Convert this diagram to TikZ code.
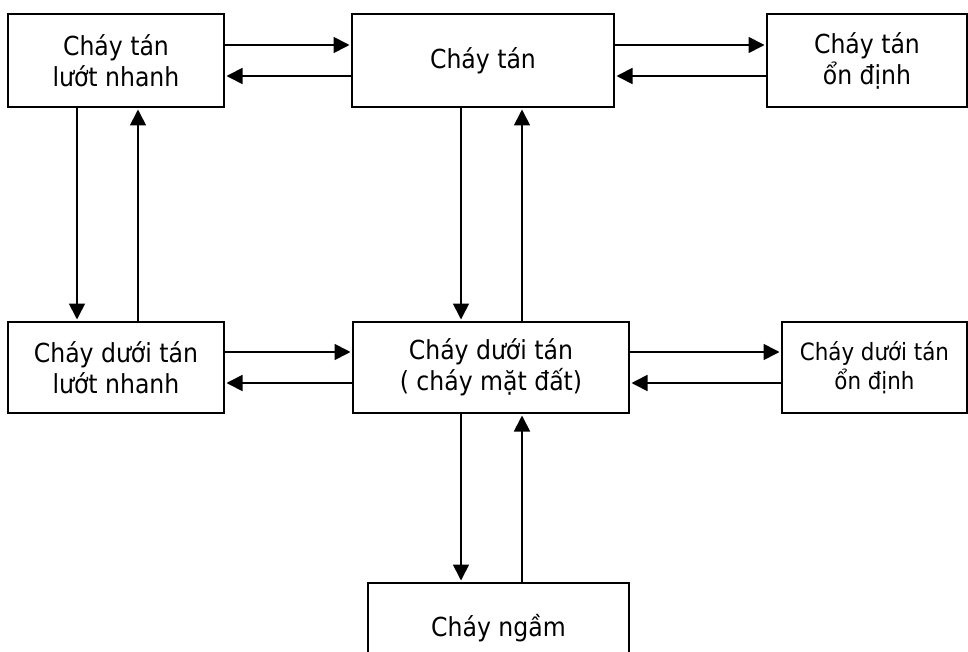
\documentclass[tikz,border=0pt]{standalone}
\usepackage{fontspec}
\setmainfont{DejaVu Sans Condensed}
\usetikzlibrary{arrows.meta}

\begin{document}
\begin{tikzpicture}[x=1pt,y=-1pt,
  box/.style={draw, line width=2pt, inner sep=0pt, outer sep=0pt,
    align=center, font=\fontsize{26.2}{31}\selectfont},
  smallbox/.style={box, font=\fontsize{23.8}{29}\selectfont},
  link/.style={line width=1.7pt, shorten >=2.5pt,
    -{Triangle[length=16pt,width=16pt]}}]

\fill[white] (0,0) rectangle (968,652);
\useasboundingbox (0,0) rectangle (968,652);

% fire states
\node[box, minimum width=216pt, minimum height=93pt] (b1) at (116,60.5) {Cháy tán\\lướt nhanh};
\node[box, minimum width=262pt, minimum height=93pt] (b2) at (483,60.5) {Cháy tán};
\node[box, minimum width=200pt, minimum height=93pt] (b3) at (867,60.5) {Cháy tán\\ổn định};
\node[box, minimum width=216pt, minimum height=91pt] (b4) at (116,367.5) {Cháy dưới tán\\lướt nhanh};
\node[box, minimum width=276pt, minimum height=91pt] (b5) at (491,367.5) {Cháy dưới tán\\( cháy mặt đất)};
\node[smallbox, minimum width=185pt, minimum height=91pt] (b6) at (874.5,367.5) {Cháy dưới tán\\ổn định};
\node[box, minimum width=261pt, minimum height=90pt] (b7) at (498.5,628) {Cháy ngầm};

% rows and columns of the connectors
\coordinate (ra) at (0,45);
\coordinate (rb) at (0,76);
\coordinate (rc) at (0,352);
\coordinate (rd) at (0,383);
\coordinate (ca) at (77,0);
\coordinate (cb) at (138,0);
\coordinate (cc) at (461,0);
\coordinate (cd) at (522,0);

% horizontal transitions
\draw[link] (b1.east |- ra) -- (b2.west |- ra);
\draw[link] (b2.west |- rb) -- (b1.east |- rb);
\draw[link] (b2.east |- ra) -- (b3.west |- ra);
\draw[link] (b3.west |- rb) -- (b2.east |- rb);
\draw[link] (b4.east |- rc) -- (b5.west |- rc);
\draw[link] (b5.west |- rd) -- (b4.east |- rd);
\draw[link] (b5.east |- rc) -- (b6.west |- rc);
\draw[link] (b6.west |- rd) -- (b5.east |- rd);

% vertical transitions
\draw[link] (ca |- b1.south) -- (ca |- b4.north);
\draw[link] (cb |- b4.north) -- (cb |- b1.south);
\draw[link] (cc |- b2.south) -- (cc |- b5.north);
\draw[link] (cd |- b5.north) -- (cd |- b2.south);
\draw[link] (cc |- b5.south) -- (cc |- b7.north);
\draw[link] (cd |- b7.north) -- (cd |- b5.south);
\end{tikzpicture}
\end{document}
